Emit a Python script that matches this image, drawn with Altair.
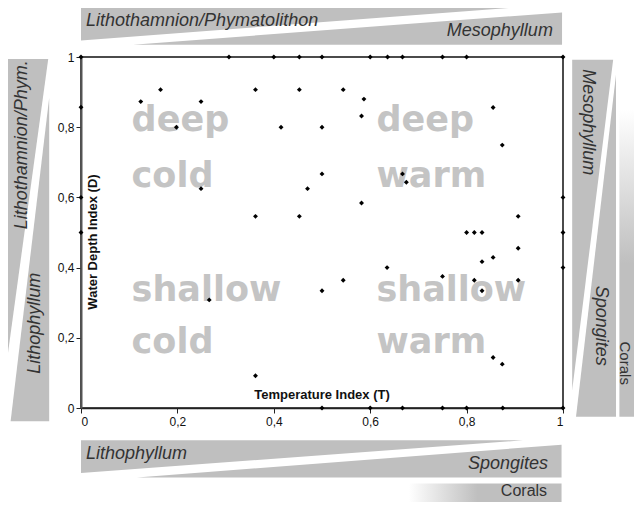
import altair as alt
import pandas as pd

# ---- scatter data: Temperature Index (T) and Water Depth Index (D) ----
T = [0, 0.307, 0.4, 0.453, 0.5, 0.6, 0.636, 0.667, 0.75, 0.8, 1,
     0.5, 0.6, 0.667, 0.75, 0.8, 0.875, 1,
     0, 0, 0, 1, 1, 1,
     0.124, 0.165, 0.198, 0.249, 0.249, 0.266, 0.362, 0.362, 0.362, 0.415,
     0.453, 0.453, 0.47, 0.5, 0.5, 0.5, 0.544, 0.544, 0.582, 0.587, 0.582,
     0.635, 0.667, 0.675, 0.75, 0.8, 0.816, 0.832, 0.816, 0.832, 0.855,
     0.832, 0.855, 0.874, 0.907, 0.907, 0.907, 0.855, 0.874]
D = [1, 1, 1, 1, 1, 1, 1, 1, 1, 1, 1,
     0, 0, 0, 0, 0, 0, 0,
     0.857, 0.6, 0.5, 0.6, 0.5, 0.4,
     0.873, 0.907, 0.80, 0.873, 0.625, 0.308, 0.907, 0.546, 0.092, 0.80,
     0.907, 0.546, 0.625, 0.80, 0.667, 0.334, 0.907, 0.364, 0.832, 0.880, 0.584,
     0.40, 0.667, 0.643, 0.375, 0.5, 0.5, 0.5, 0.364, 0.417, 0.429,
     0.334, 0.856, 0.749, 0.546, 0.455, 0.364, 0.144, 0.125]

tick_values = [0, 0.2, 0.4, 0.6, 0.8, 1]

quadrant_words = ["deep", "cold", "shallow", "cold", "deep", "warm", "shallow", "warm"]
quadrant_T = [0.105, 0.105, 0.105, 0.105, 0.613, 0.613, 0.613, 0.613]
quadrant_D = [0.788, 0.631, 0.304, 0.157, 0.788, 0.631, 0.304, 0.157]

# ---- decorative taxon wedges, in data units of the same scales ----
top1 = pd.DataFrame({"x": [0, 0.915], "y": [1.1425, 1.1425], "y2": [1.047, 1.1425]})
top2 = pd.DataFrame({"x": [0.108, 0.998], "y": [1.035, 1.035], "y2": [1.035, 1.127]})
bot1 = pd.DataFrame({"x": [0, 0.917], "y": [-0.092, -0.092], "y2": [-0.185, -0.092]})
bot2 = pd.DataFrame({"x": [0.116, 0.997], "y": [-0.198, -0.198], "y2": [-0.198, -0.1045]})
left1 = pd.DataFrame({"y": [0.072, 0.994], "x": [-0.16, -0.16], "x2": [-0.16, -0.068]})
left2 = pd.DataFrame({"y": [-0.038, 0.884], "x": [-0.066, -0.066], "x2": [-0.146, -0.066]})
right1 = pd.DataFrame({"y": [0.05, 0.992], "x": [1.019, 1.019], "x2": [1.019, 1.104]})
right2 = pd.DataFrame({"y": [-0.025, 0.95], "x": [1.11, 1.11], "x2": [1.027, 1.11]})
coral_bottom = pd.DataFrame({"x": [0.68], "x2": [0.997], "y": [-0.215], "y2": [-0.33]})
coral_right = pd.DataFrame({"x": [1.117], "x2": [1.22], "y": [0.85], "y2": [-0.025]})

GRAY = "#bfbfbf"
LABEL = "#333333"

label_expr = ("datum.value == 0 ? '0' : datum.value == 1 ? '1' : "
              "replace(format(datum.value, '.1f'), '.', ',')")
xaxis = alt.Axis(values=tick_values, labelExpr=label_expr, title=None, grid=False,
                 tickSize=5, labelPadding=3, domainColor="#222", domainWidth=1.5,
                 tickColor="#222", labelColor="#111", labelFontSize=12,
                 labelFont="Liberation Sans")
yaxis = alt.Axis(values=tick_values, labelExpr=label_expr, title=None, grid=False,
                 tickSize=5, labelPadding=2, domainColor="#555", domainWidth=2,
                 tickColor="#222", labelColor="#111", labelFontSize=12,
                 labelFont="Liberation Sans")
xs = alt.Scale(domain=[0, 1], nice=False, zero=False)
ys = alt.Scale(domain=[0, 1], nice=False, zero=False)


def X(f="x"):
    return alt.X(f + ":Q", scale=xs, axis=xaxis)


def Y(f="y"):
    return alt.Y(f + ":Q", scale=ys, axis=yaxis)


layers = []
for df in (top1, top2, bot1, bot2):
    layers.append(alt.Chart(df).mark_area(orient="vertical", color=GRAY).encode(
        x=X(), y=Y(), y2="y2:Q"))
for df in (left1, left2, right1, right2):
    layers.append(alt.Chart(df).mark_area(orient="horizontal", color=GRAY).encode(
        y=Y(), x=X(), x2="x2:Q"))

layers.append(alt.Chart(coral_bottom).mark_rect(
    fill=alt.Gradient(gradient="linear", x1=0, x2=1, y1=0, y2=0,
                      stops=[alt.GradientStop(color="#ffffff", offset=0),
                             alt.GradientStop(color=GRAY, offset=0.45),
                             alt.GradientStop(color=GRAY, offset=1)])
).encode(x=X(), x2="x2:Q", y=Y(), y2="y2:Q"))
layers.append(alt.Chart(coral_right).mark_rect(
    fill=alt.Gradient(gradient="linear", x1=0, x2=0, y1=0, y2=1,
                      stops=[alt.GradientStop(color="#ffffff", offset=0),
                             alt.GradientStop(color=GRAY, offset=0.5),
                             alt.GradientStop(color=GRAY, offset=1)])
).encode(x=X(), x2="x2:Q", y=Y(), y2="y2:Q"))


def text_layer(labels, xv, yv, **mk):
    df = pd.DataFrame({"x": xv, "y": yv, "t": labels})
    return alt.Chart(df).mark_text(**mk).encode(x=X(), y=Y(), text="t:N")


ital = dict(font="Liberation Sans", fontSize=18, fontStyle="italic", color=LABEL)

layers.append(text_layer(["Lithothamnion/Phymatolithon", "Lithophyllum"],
                         [0.0104, 0.0104], [1.089, -0.145],
                         align="left", baseline="alphabetic", **ital))
layers.append(text_layer(["Mesophyllum", "Spongites"],
                         [0.979, 0.969], [1.061, -0.174],
                         align="right", baseline="alphabetic", **ital))
layers.append(text_layer(["Corals"], [0.967], [-0.25],
                         align="right", baseline="alphabetic",
                         font="Liberation Sans", fontSize=16, color=LABEL))
layers.append(text_layer(["Lithothamnion/Phym.", "Lithophyllum"],
                         [-0.123, -0.095], [0.75, 0.2416],
                         align="center", baseline="middle", angle=270, **ital))
layers.append(text_layer(["Mesophyllum", "Spongites"],
                         [1.052, 1.079], [0.814, 0.2345],
                         align="center", baseline="middle", angle=90, **ital))
layers.append(text_layer(["Corals"], [1.128], [0.1276],
                         align="center", baseline="middle", angle=90,
                         font="Liberation Sans", fontSize=15, color=LABEL))

# big quadrant words
layers.append(text_layer(quadrant_words, quadrant_T, quadrant_D,
                         align="left", baseline="alphabetic", font="DejaVu Sans",
                         fontWeight="bold", fontSize=35, color="#c4c4c4"))

# axis titles placed inside the plot
layers.append(text_layer(["Temperature Index (T)"], [0.5], [0.027],
                         align="center", baseline="alphabetic", font="Liberation Sans",
                         fontWeight="bold", fontSize=13, color="#111"))
layers.append(text_layer(["Water Depth Index (D)"], [0.025], [0.473],
                         align="center", baseline="middle", angle=270, font="Liberation Sans",
                         fontWeight="bold", fontSize=13, color="#111"))

pts = pd.DataFrame({"x": T, "y": D})
layers.append(alt.Chart(pts).mark_point(shape="diamond", filled=True, size=24,
                                        color="black", opacity=1).encode(x=X(), y=Y()))

chart = alt.layer(*layers).properties(
    width=482, height=351,
    padding={"left": 73, "top": 49, "right": 71, "bottom": 94},
    autosize=alt.AutoSizeParams(type="none"),
).configure_view(stroke="#111", strokeWidth=1.5)

chart.save("out.html", embed_options={"renderer": "svg", "actions": False})
